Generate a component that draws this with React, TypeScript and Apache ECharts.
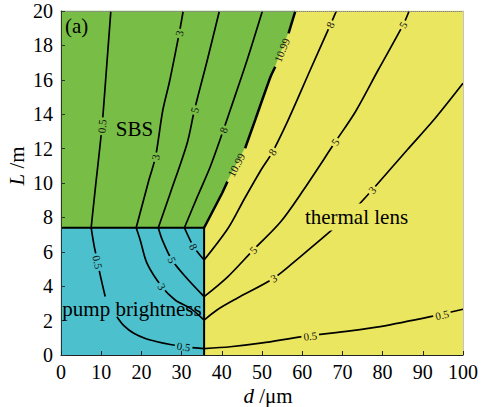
import React, { useEffect, useRef } from "react";
import * as echarts from "echarts";

// Axis ticks
const dTicks = [0, 10, 20, 30, 40, 50, 60, 70, 80, 90, 100];
const lTicks = [0, 2, 4, 6, 8, 10, 12, 14, 16, 18, 20];

// Limits of the pump-brightness region (d in μm, L in m)
const pumpLimitD = 35.6;
const pumpLimitL = 7.4;

// SBS / thermal-lens boundary (the 10.99 contour), split where its labels sit
const boundaryLower = [[35.6, 7.4], [40.1, 9.42], [41.4, 10.08]];
const boundaryMiddle = [[45.8, 12.02], [48.3, 13.66], [52.1, 16.16], [53.3, 16.76]];
const boundaryUpper = [[56.6, 18.7], [58.3, 20]];

// Contour lines, one array per level and region
const contour05Sbs = [[12.4, 20], [11.3, 16.6], [10.2, 13.3], [8.5, 9.6], [7.5, 7.4]];
const contour05PumpUpper = [[7.5, 7.4], [8.2, 6.4], [9.0, 5.5], [9.9, 4.5], [11.0, 3.4]];
const contour05PumpLower = [[13.9, 2.23], [15.7, 1.69], [18.1, 1.26], [21.0, 0.96], [23.9, 0.77], [27.2, 0.61], [30.5, 0.49], [33.4, 0.41], [35.6, 0.37]];
const contour05Thermal = [[35.6, 0.37], [42.1, 0.48], [50.1, 0.7], [60.0, 1.07], [71.9, 1.4], [79.4, 1.65], [91.9, 2.23], [100, 2.66]];

const contour3Sbs = [[30.4, 20], [29.4, 18.7], [27.0, 15.9], [25.3, 14.2], [23.5, 11.5], [21.9, 10.2], [18.7, 7.4]];
const contour3Pump = [[18.7, 7.4], [19.7, 6.69], [21.4, 5.33], [25.1, 3.97], [28.4, 3.2], [32.2, 2.71], [35.6, 2.03]];
const contour3Thermal = [[35.6, 2.03], [38.8, 2.62], [43.8, 3.3], [52.9, 4.46], [59.5, 5.71], [67.4, 7.27], [72.8, 8.43], [77.4, 9.59], [86.1, 11.92], [92.7, 13.66], [100, 15.8]];

const contour5Sbs = [[39.4, 20], [36.4, 17.15], [33.2, 14.24], [31.4, 12.33], [27.2, 9.42], [24.2, 7.4]];
const contour5Pump = [[24.2, 7.4], [25.2, 6.69], [27.6, 5.52], [31.3, 4.46], [35.6, 3.39]];
const contour5Thermal = [[35.6, 3.39], [41.4, 4.53], [47.8, 6.1], [54.6, 7.73], [60.3, 9.59], [68.2, 12.38], [73.2, 14.13], [78.9, 16.57], [85.1, 19.19], [86.6, 20]];

const contour8Sbs = [[30.7, 7.4], [33.9, 9.19], [37.1, 10.93], [40.4, 13.08], [42.1, 14.24], [46.3, 17.15], [50.1, 20]];
const contour8Pump = [[30.7, 7.4], [33.0, 6.3], [35.6, 5.52]];
const contour8Thermal = [[35.6, 5.52], [41.6, 7.38], [45.6, 9.07], [49.6, 10.7], [52.6, 11.8], [56.5, 13.66], [62.0, 16.57], [67.0, 19.19], [68.5, 20]];

const boundary = [...boundaryLower, ...boundaryMiddle, ...boundaryUpper];

// Contour level labels: level, position on the line, and the line they belong to
const contourLabels = [
  { level: "0.5", at: [10.2, 13.3], line: contour05Sbs },
  { level: "0.5", at: [9.1, 5.4], line: contour05PumpUpper },
  { level: "0.5", at: [30.5, 0.49], line: contour05PumpLower },
  { level: "0.5", at: [62.0, 1.1], line: contour05Thermal },
  { level: "0.5", at: [94.8, 2.33], line: contour05Thermal },
  { level: "3", at: [29.4, 18.7], line: contour3Sbs },
  { level: "3", at: [23.5, 11.5], line: contour3Sbs },
  { level: "3", at: [25.1, 3.97], line: contour3Pump },
  { level: "3", at: [52.9, 4.46], line: contour3Thermal },
  { level: "3", at: [77.4, 9.59], line: contour3Thermal },
  { level: "5", at: [33.2, 14.24], line: contour5Sbs },
  { level: "5", at: [27.6, 5.52], line: contour5Pump },
  { level: "5", at: [47.8, 6.1], line: contour5Thermal },
  { level: "5", at: [68.2, 12.38], line: contour5Thermal },
  { level: "5", at: [85.1, 19.19], line: contour5Thermal },
  { level: "8", at: [40.4, 13.08], line: contour8Sbs },
  { level: "8", at: [33.0, 6.3], line: contour8Pump },
  { level: "8", at: [52.6, 11.8], line: contour8Thermal },
  { level: "8", at: [67.0, 19.19], line: contour8Thermal },
  { level: "10.99", at: [43.6, 11.05], line: boundary },
  { level: "10.99", at: [54.95, 17.73], line: boundary },
];

const FONT = "'Liberation Serif', 'Times New Roman', serif";
const INK = "#000";
const GREEN = "#78be46";
const CYAN = "#4cc1cd";
const YELLOW = "#ebe660";

const dMin = dTicks[0];
const dMax = dTicks[dTicks.length - 1];
const lMin = lTicks[0];
const lMax = lTicks[lTicks.length - 1];

// Region outlines in data coordinates
const regionShapes = [
  {
    color: CYAN,
    points: [[dMin, lMin], [pumpLimitD, lMin], [pumpLimitD, pumpLimitL], [dMin, pumpLimitL]],
  },
  {
    color: GREEN,
    points: [[dMin, pumpLimitL], ...boundary, [dMin, lMax]],
  },
  {
    color: YELLOW,
    points: [[pumpLimitD, lMin], [dMax, lMin], [dMax, lMax], ...[...boundary].reverse()],
  },
];

function boundaryDAt(l: number) {
  for (let i = 0; i < boundary.length - 1; i++) {
    const [d0, l0] = boundary[i];
    const [d1, l1] = boundary[i + 1];
    if (l >= l0 && l <= l1) return d0 + ((l - l0) / (l1 - l0)) * (d1 - d0);
  }
  return l < boundary[0][1] ? boundary[0][0] : boundary[boundary.length - 1][0];
}

function fillAt(d: number, l: number) {
  if (l <= pumpLimitL) return d <= pumpLimitD ? CYAN : YELLOW;
  return d <= boundaryDAt(l) ? GREEN : YELLOW;
}

function segDist(p: number[], a: number[], b: number[]) {
  const vx = b[0] - a[0];
  const vy = b[1] - a[1];
  const len2 = vx * vx + vy * vy || 1;
  let t = ((p[0] - a[0]) * vx + (p[1] - a[1]) * vy) / len2;
  t = Math.max(0, Math.min(1, t));
  const cx = a[0] + t * vx - p[0];
  const cy = a[1] + t * vy - p[1];
  return Math.sqrt(cx * cx + cy * cy);
}

const contourLines = [
  contour05Sbs, contour05PumpUpper, contour05PumpLower, contour05Thermal,
  contour3Sbs, contour3Pump, contour3Thermal,
  contour5Sbs, contour5Pump, contour5Thermal,
  contour8Sbs, contour8Pump, contour8Thermal,
];

function lineSeries(data: number[][], width: number, smooth: number | boolean) {
  return {
    type: "line",
    data,
    showSymbol: false,
    symbol: "none",
    smooth,
    silent: true,
    z: 3,
    lineStyle: { color: INK, width },
  };
}

function textStyle(text: string, align: string, extra: any = {}) {
  return {
    text,
    fill: INK,
    fontSize: 21,
    fontFamily: FONT,
    align,
    verticalAlign: "middle",
    textAlign: align,
    textVerticalAlign: "middle",
    ...extra,
  };
}

function buildOption() {
  return {
    animation: false,
    backgroundColor: "#fff",
    grid: { left: 61, right: 20, top: 11, bottom: 52 },
    xAxis: [
      {
        type: "value",
        min: dMin,
        max: dMax,
        interval: dTicks[1] - dTicks[0],
        position: "bottom",
        z: 10,
        axisLine: { show: true, onZero: false, lineStyle: { color: "#222", width: 1 } },
        axisTick: { show: true, inside: true, length: 4, lineStyle: { color: "#222" } },
        axisLabel: { fontFamily: FONT, fontSize: 20, color: INK, margin: 7 },
        splitLine: { show: false },
      },
      {
        type: "value",
        min: dMin,
        max: dMax,
        position: "top",
        z: 10,
        axisLine: { show: true, onZero: false, lineStyle: { color: "#8a8a8a", width: 1, type: "dotted" } },
        axisTick: { show: false },
        axisLabel: { show: false },
        splitLine: { show: false },
      },
    ],
    yAxis: [
      {
        type: "value",
        min: lMin,
        max: lMax,
        interval: lTicks[1] - lTicks[0],
        position: "left",
        z: 10,
        axisLine: { show: true, onZero: false, lineStyle: { color: "#333", width: 1 } },
        axisTick: { show: true, inside: true, length: 4, lineStyle: { color: "#333" } },
        axisLabel: { fontFamily: FONT, fontSize: 20, color: INK, margin: 8 },
        splitLine: { show: false },
      },
      {
        type: "value",
        min: lMin,
        max: lMax,
        position: "right",
        z: 10,
        axisLine: { show: true, onZero: false, lineStyle: { color: "#c4c4c4", width: 1 } },
        axisTick: { show: false },
        axisLabel: { show: false },
        splitLine: { show: false },
      },
    ],
    series: [
      {
        type: "custom",
        silent: true,
        z: 1,
        data: regionShapes.map((_, i) => [dMin + i, lMin]),
        renderItem: (params: any, api: any) => {
          const r = regionShapes[params.dataIndex];
          return {
            type: "polygon",
            shape: { points: r.points.map((p) => api.coord(p)) },
            style: { fill: r.color, stroke: r.color, lineWidth: 0.5 },
          };
        },
      },
      ...contourLines.map((c) => lineSeries(c, 1.7, 0.3)),
      lineSeries([[dMin, pumpLimitL], [pumpLimitD, pumpLimitL], [pumpLimitD, lMin]], 2, false),
      lineSeries(boundaryLower, 2.5, false),
      lineSeries(boundaryMiddle, 2.5, 0.2),
      lineSeries(boundaryUpper, 2.5, false),
      {
        type: "custom",
        silent: true,
        z: 5,
        data: contourLabels.map((l) => l.at),
        renderItem: (params: any, api: any) => {
          const lab = contourLabels[params.dataIndex];
          const p = api.coord(lab.at);
          const pts = lab.line.map((q) => api.coord(q));
          let best = Infinity;
          let ang = 0;
          for (let i = 0; i < pts.length - 1; i++) {
            const d = segDist(p, pts[i], pts[i + 1]);
            if (d < best) {
              best = d;
              ang = Math.atan2(-(pts[i + 1][1] - pts[i][1]), pts[i + 1][0] - pts[i][0]);
            }
          }
          if (ang > Math.PI / 2) ang -= Math.PI;
          if (ang < -Math.PI / 2) ang += Math.PI;
          const onBoundary = lab.line === boundary;
          return {
            type: "text",
            x: p[0],
            y: p[1],
            rotation: ang,
            style: {
              text: lab.level,
              fill: "#111",
              fontSize: 11,
              fontFamily: FONT,
              align: "center",
              verticalAlign: "middle",
              textAlign: "center",
              textVerticalAlign: "middle",
              backgroundColor: onBoundary ? "transparent" : fillAt(lab.at[0], lab.at[1]),
              padding: [0, 2],
            },
          };
        },
      },
    ],
    graphic: [
      { type: "text", x: 65, y: 26, z: 20, style: textStyle("(a)", "left") },
      { type: "text", x: 134.5, y: 129, z: 20, style: textStyle("SBS", "center") },
      { type: "text", x: 132, y: 309, z: 20, style: textStyle("pump brightness", "center") },
      {
        type: "text",
        x: 356.5,
        y: 217,
        z: 20,
        style: textStyle("thermal lens", "center", { backgroundColor: YELLOW, padding: [3, 0] }),
      },
      {
        type: "text",
        x: 268,
        y: 396,
        z: 20,
        style: textStyle("{i|d} /μm", "center", {
          rich: { i: { fontStyle: "italic", fontSize: 21, fontFamily: FONT, fill: INK } },
        }),
      },
      {
        type: "text",
        x: 17,
        y: 166,
        z: 20,
        rotation: Math.PI / 2,
        style: textStyle("{i|L} /m", "center", {
          rich: { i: { fontStyle: "italic", fontSize: 21, fontFamily: FONT, fill: INK } },
        }),
      },
    ],
  };
}

export default function App() {
  const ref = useRef<HTMLDivElement>(null);
  useEffect(() => {
    document.body.style.margin = "0";
    const chart = echarts.init(ref.current!, null, { renderer: "svg" });
    chart.setOption(buildOption() as any);
    return () => chart.dispose();
  }, []);
  return (
    <div
      ref={ref}
      style={{ position: "absolute", left: 0, top: 0, width: 483, height: 407, background: "#fff" }}
    />
  );
}
